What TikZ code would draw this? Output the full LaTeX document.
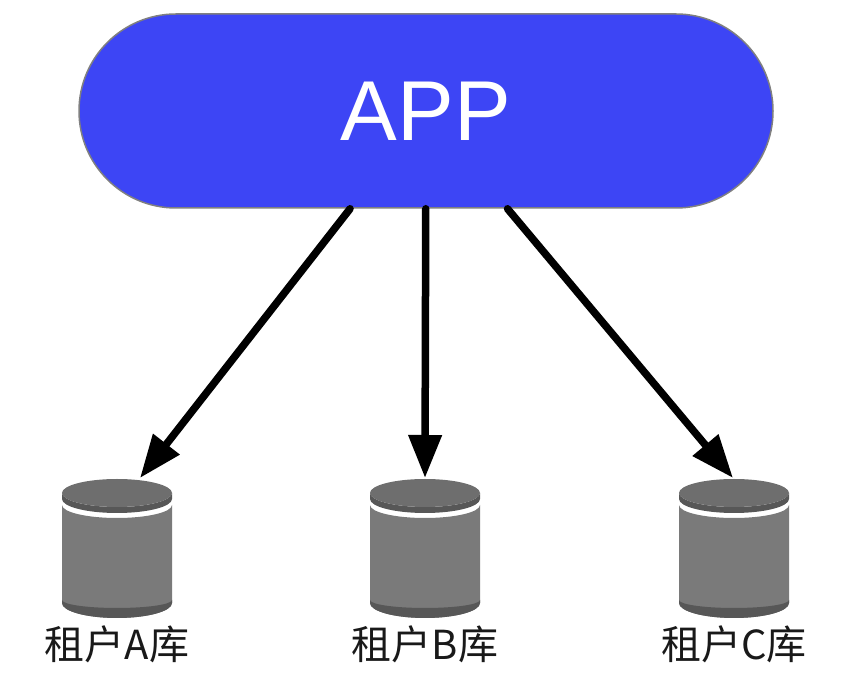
\documentclass[tikz,border=0pt]{standalone}
\usepackage{fontspec}
\setmainfont{Liberation Sans}
\newfontfamily\cjk{Noto Sans CJK SC}
\usetikzlibrary{arrows.meta}
\definecolor{appblue}{HTML}{3D45F5}
\tikzset{
  appbox/.style={draw=gray,line width=1.5pt,fill=appblue,text=white,rounded corners=97pt,
    minimum width=694pt,minimum height=194pt,font=\fontsize{85}{85}\selectfont},
  dblabel/.style={font=\cjk\fontsize{40}{40}\selectfont,text=black!90},
  arrowline/.style={-{Triangle[length=43pt,width=32pt]},line width=7.5pt},
  dbcyl/.pic={
    \fill[black!52] (-55,-12) arc[start angle=180,end angle=360,x radius=55,y radius=13]
      -- (55,-110) arc[start angle=0,end angle=-180,x radius=55,y radius=15] -- cycle;
    \fill[black!66] (55,-107) arc[start angle=0,end angle=-180,x radius=55,y radius=8]
      -- (-55,-110) arc[start angle=180,end angle=360,x radius=55,y radius=15] -- cycle;
    \fill[black!66] (-55,0) arc[start angle=180,end angle=360,x radius=55,y radius=14]
      -- (55,-6) arc[start angle=0,end angle=-180,x radius=55,y radius=14] -- cycle;
    \fill[black!57] (0,0) ellipse (55 and 14);
  }
}
\begin{document}
\begin{tikzpicture}[x=1pt,y=1pt,>=stealth,line join=round,line cap=round]
\useasboundingbox (0,0) rectangle (857,677);
\node[appbox] (app) at (426,566) {APP};
\foreach \tag/\cx/\tipx in {A/117/140,B/425/425,C/734/733}{
  \pic at (\cx,184) {dbcyl};
  \node[dblabel] (lbl\tag) at (\cx,33) {租户\tag 库};
  \coordinate (db\tag) at (\tipx,199);
  \draw[arrowline] (app)--(db\tag);
}
\end{tikzpicture}
\end{document}
